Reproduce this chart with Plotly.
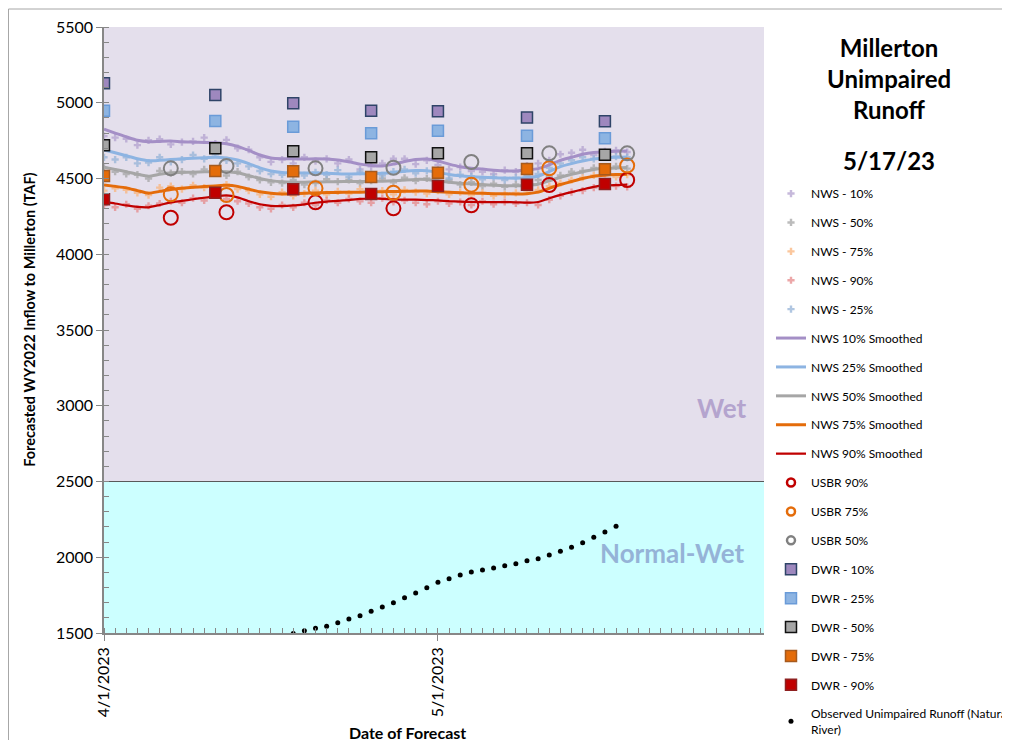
import plotly.graph_objects as go
import pandas as pd

# ---------------- data ----------------
nws_dates = pd.date_range("2023-04-01", "2023-05-18", freq="D")

nws10 = [4780, 4770, 4762, 4720, 4752, 4760, 4725, 4740, 4745, 4770, 4730, 4755, 4700, 4690, 4640, 4610,
         4625, 4600, 4640, 4615, 4630, 4600, 4625, 4560, 4580, 4600, 4630, 4630, 4595, 4620, 4590, 4560,
         4575, 4550, 4545, 4530, 4555, 4545, 4585, 4600, 4620, 4660, 4670, 4690, 4655, 4680, 4685, 4675]
nws50 = [4570, 4545, 4530, 4525, 4500, 4550, 4535, 4545, 4530, 4560, 4540, 4520, 4545, 4510, 4490, 4475,
         4470, 4490, 4460, 4470, 4495, 4480, 4490, 4470, 4485, 4500, 4475, 4505, 4485, 4500, 4470, 4490,
         4460, 4475, 4450, 4465, 4445, 4460, 4470, 4490, 4510, 4520, 4545, 4550, 4570, 4555, 4580, 4565]
nws75 = [4420, 4435, 4425, 4405, 4390, 4440, 4450, 4430, 4455, 4440, 4435, 4460, 4430, 4420, 4395, 4380,
         4410, 4385, 4400, 4420, 4395, 4415, 4400, 4430, 4405, 4420, 4395, 4425, 4410, 4400, 4420, 4395,
         4410, 4390, 4405, 4385, 4395, 4405, 4420, 4425, 4450, 4470, 4490, 4505, 4520, 4530, 4510, 4525]
nws90 = [4325, 4310, 4330, 4300, 4320, 4335, 4350, 4340, 4370, 4355, 4390, 4365, 4350, 4335, 4310, 4300,
         4325, 4310, 4340, 4325, 4355, 4340, 4365, 4350, 4340, 4370, 4345, 4355, 4340, 4330, 4350, 4335,
         4345, 4325, 4350, 4330, 4345, 4335, 4340, 4325, 4360, 4385, 4410, 4420, 4440, 4455, 4450, 4445]
nws25 = [4640, 4625, 4640, 4600, 4605, 4640, 4610, 4625, 4655, 4630, 4660, 4620, 4600, 4580, 4550, 4530,
         4525, 4545, 4520, 4540, 4525, 4555, 4510, 4545, 4530, 4520, 4545, 4560, 4535, 4550, 4530, 4500,
         4525, 4515, 4495, 4510, 4490, 4505, 4520, 4530, 4570, 4600, 4620, 4640, 4630, 4650, 4645, 4640]

sm10 = [4825, 4800, 4775, 4752, 4743, 4745, 4747, 4742, 4740, 4738, 4736, 4730, 4712, 4685, 4655, 4635,
        4630, 4630, 4628, 4630, 4628, 4622, 4610, 4595, 4586, 4583, 4595, 4612, 4625, 4628, 4615, 4595,
        4578, 4568, 4562, 4555, 4550, 4550, 4556, 4565, 4590, 4620, 4640, 4660, 4672, 4677, 4680, 4681]
sm25 = [4688, 4670, 4650, 4630, 4617, 4620, 4625, 4630, 4633, 4637, 4640, 4635, 4622, 4598, 4570, 4550,
        4540, 4538, 4536, 4537, 4535, 4532, 4530, 4531, 4533, 4535, 4540, 4548, 4553, 4552, 4540, 4527,
        4518, 4512, 4508, 4505, 4503, 4502, 4506, 4515, 4545, 4578, 4598, 4615, 4628, 4636, 4640, 4642]
sm50 = [4574, 4560, 4545, 4528, 4515, 4528, 4538, 4540, 4542, 4544, 4546, 4545, 4538, 4520, 4500, 4486,
        4478, 4476, 4476, 4477, 4478, 4479, 4480, 4481, 4481, 4482, 4485, 4490, 4494, 4493, 4485, 4475,
        4468, 4464, 4460, 4455, 4452, 4452, 4456, 4462, 4485, 4508, 4528, 4545, 4560, 4567, 4570, 4572]
sm75 = [4457, 4448, 4438, 4420, 4403, 4415, 4428, 4436, 4442, 4447, 4451, 4455, 4448, 4430, 4412, 4402,
        4398, 4400, 4402, 4405, 4407, 4408, 4409, 4410, 4412, 4413, 4414, 4416, 4417, 4417, 4413, 4409,
        4406, 4404, 4402, 4400, 4399, 4398, 4400, 4410, 4435, 4460, 4480, 4500, 4515, 4522, 4526, 4528]
sm90 = [4345, 4335, 4322, 4312, 4310, 4325, 4342, 4352, 4363, 4373, 4382, 4388, 4375, 4350, 4330, 4320,
        4318, 4322, 4330, 4340, 4348, 4352, 4358, 4365, 4368, 4366, 4363, 4360, 4360, 4358, 4355, 4350,
        4347, 4345, 4344, 4344, 4344, 4343, 4340, 4345, 4370, 4392, 4410, 4428, 4445, 4454, 4457, 4459]

usbr_dates = ["2023-04-07", "2023-04-12", "2023-04-20", "2023-04-27", "2023-05-04", "2023-05-11", "2023-05-18"]
usbr90 = [4241, 4277, 4343, 4303, 4323, 4457, 4490]
usbr75 = [4396, 4391, 4435, 4406, 4459, 4567, 4585]
usbr50 = [4567, 4583, 4567, 4571, 4609, 4666, 4666]

dwr_dates = ["2023-04-01", "2023-04-11", "2023-04-18", "2023-04-25", "2023-05-01", "2023-05-09", "2023-05-16"]
dwr10 = [5128, 5051, 4996, 4948, 4944, 4902, 4878]
dwr25 = [4948, 4880, 4842, 4798, 4816, 4783, 4765]
dwr50 = [4719, 4699, 4680, 4640, 4666, 4666, 4657]
dwr75 = [4517, 4550, 4548, 4510, 4538, 4563, 4561]
dwr90 = [4363, 4406, 4429, 4398, 4450, 4459, 4464]

obs_dates = pd.date_range("2023-04-18", "2023-05-17", freq="D")
obs = [1497, 1515, 1531, 1544, 1568, 1592, 1614, 1643, 1672, 1700, 1733, 1764, 1799, 1835, 1858,
       1883, 1903, 1916, 1929, 1944, 1957, 1977, 1990, 2015, 2039, 2066, 2096, 2132, 2167, 2204]

x_ticks = ["2023-04-01", "2023-05-01"]
x_ticklabels = ["4/1/2023", "5/1/2023"]

# ---------------- styles ----------------
C_PURPLE = "#A48FC6"
C_BLUE = "#8DB4E2"
C_GRAY = "#A6A6A6"
C_ORANGE = "#E46C0A"
C_RED = "#C00000"
FONT = "Lato"

fig = go.Figure()
gid = [0]


def add(trace):
    gid[0] += 1
    trace.legendgroup = "g%d" % gid[0]
    fig.add_trace(trace)


# NWS daily dots
for name, vals, col in [("NWS - 10%", nws10, "#B3A2CF"), ("NWS - 50%", nws50, "#A6A6A6"),
                        ("NWS - 75%", nws75, "#FAB47C"), ("NWS - 90%", nws90, "#E6898B"),
                        ("NWS - 25%", nws25, "#95B3D7")]:
    add(go.Scatter(x=nws_dates, y=vals, mode="markers", name=name,
                   marker=dict(symbol="cross", size=6, color=col, opacity=0.75, line=dict(width=0))))

# Smoothed lines
for name, vals, col, w in [("NWS 10% Smoothed", sm10, C_PURPLE, 3), ("NWS 25% Smoothed", sm25, C_BLUE, 3),
                           ("NWS 50% Smoothed", sm50, C_GRAY, 3), ("NWS 75% Smoothed", sm75, C_ORANGE, 3),
                           ("NWS 90% Smoothed", sm90, C_RED, 2.25)]:
    add(go.Scatter(x=nws_dates, y=vals, mode="lines", name=name,
                   line=dict(color=col, width=w, shape="spline", smoothing=0.6)))

# USBR circles (plot marks; legend uses smaller symbols like the original)
for name, vals, col in [("USBR 90%", usbr90, C_RED), ("USBR 75%", usbr75, C_ORANGE), ("USBR 50%", usbr50, "#808080")]:
    gid[0] += 1
    g = "g%d" % gid[0]
    fig.add_trace(go.Scatter(x=usbr_dates, y=vals, mode="markers", name=name, legendgroup=g, showlegend=False,
                             marker=dict(symbol="circle-open", size=14, color=col, line=dict(width=2, color=col))))
    fig.add_trace(go.Scatter(x=[None], y=[None], mode="markers", name=name, legendgroup=g,
                             marker=dict(symbol="circle-open", size=8, color=col, line=dict(width=2.5, color=col))))

# DWR squares
for name, vals, fill, edge in [("DWR - 10%", dwr10, "#9E88BE", "#2F4468"), ("DWR - 25%", dwr25, "#8DB4E2", "#6A9BD8"),
                               ("DWR - 50%", dwr50, "#A6A6A6", "#111111"), ("DWR - 75%", dwr75, C_ORANGE, "#A65A1E"),
                               ("DWR - 90%", dwr90, C_RED, "#8E2020")]:
    add(go.Scatter(x=dwr_dates, y=vals, mode="markers", name=name,
                   marker=dict(symbol="square", size=11, color=fill, line=dict(width=1.5, color=edge))))

add(go.Scatter(x=obs_dates, y=obs, mode="markers", name="Observed Unimpaired Runoff (Natural<br>River)",
               marker=dict(symbol="circle", size=5, color="black")))

# background regions
fig.add_shape(type="rect", xref="paper", yref="y", x0=0, x1=1, y0=2500, y1=5500,
              fillcolor="#E4DFEC", line_width=0, layer="below")
fig.add_shape(type="rect", xref="paper", yref="y", x0=0, x1=1, y0=1500, y1=2500,
              fillcolor="#CCFFFF", line_width=0, layer="below")
fig.add_shape(type="line", xref="paper", yref="y", x0=0, x1=1, y0=2500, y1=2500,
              line=dict(color="#595959", width=1), layer="below")
# outer chart frame
fig.add_shape(type="rect", xref="paper", yref="paper", x0=-0.1447, x1=1.6, y0=-0.5, y1=1.0297,
              line=dict(color="#A6A6A6", width=1), fillcolor="rgba(0,0,0,0)")

fig.add_annotation(xref="paper", yref="y", x=0.936, y=2985, text="<b>Wet</b>", showarrow=False,
                   xanchor="center", yanchor="middle",
                   font=dict(family=FONT, size=26, color="#B4A4CE"))
fig.add_annotation(xref="paper", yref="y", x=0.8606, y=2028, text="<b>Normal-Wet</b>", showarrow=False,
                   xanchor="center", yanchor="middle",
                   font=dict(family=FONT, size=26, color="#95B3D7"))

fig.add_annotation(xref="paper", yref="paper", x=1.1894, y=0.9158,
                   text="<b>Millerton<br>Unimpaired<br>Runoff</b>", showarrow=False,
                   xanchor="center", yanchor="middle",
                   font=dict(family=FONT, size=24, color="black"))
fig.add_annotation(xref="paper", yref="paper", x=1.1894, y=0.7805, text="<b>5/17/23</b>", showarrow=False,
                   xanchor="center", yanchor="middle",
                   font=dict(family=FONT, size=24, color="black"))

fig.add_annotation(xref="paper", yref="paper", x=0.4606, y=-0.165, text="<b>Date of Forecast</b>",
                   showarrow=False, xanchor="center", yanchor="middle",
                   font=dict(family=FONT, size=16, color="black"))
fig.add_annotation(xref="paper", yref="paper", x=-0.112, y=0.517, textangle=-90,
                   text="<b>Forecasted WY2022 Inflow to Millerton (TAF)</b>",
                   showarrow=False, xanchor="center", yanchor="middle",
                   font=dict(family=FONT, size=14.5, color="black"))

fig.update_layout(
    width=1010, height=740,
    margin=dict(l=96, r=254, t=19, b=115, autoexpand=False),
    paper_bgcolor="white", plot_bgcolor="rgba(0,0,0,0)",
    font=dict(family=FONT, size=12, color="black"),
    showlegend=True,
    legend=dict(x=1.0106, xanchor="left", y=0.7491, yanchor="top", traceorder="grouped",
                tracegroupgap=9.9, itemwidth=30, font=dict(family=FONT, size=12, color="black"),
                bgcolor="rgba(0,0,0,0)"),
)

fig.update_xaxes(
    type="date", range=["2023-04-01", "2023-05-30 07:00"],
    tickvals=x_ticks, ticktext=x_ticklabels, tickangle=-90,
    ticks="outside", ticklen=6, tickcolor="#878787",
    showline=True, linecolor="#878787", linewidth=1.5, showgrid=False, zeroline=False,
    tickfont=dict(family=FONT, size=16, color="black"),
    minor=dict(ticks="inside", ticklen=5, tickcolor="#878787", dtick=86400000, tick0="2023-04-01", showgrid=False),
)
fig.update_yaxes(
    range=[1500, 5500], dtick=500, tick0=1500,
    ticks="outside", ticklen=6, tickcolor="#878787",
    showline=True, linecolor="#878787", linewidth=1.5, showgrid=False, zeroline=False,
    tickfont=dict(family=FONT, size=16, color="black"),
    minor=dict(ticks="inside", ticklen=5, tickcolor="#878787", dtick=100, showgrid=False),
)

fig.write_html("out.html")
